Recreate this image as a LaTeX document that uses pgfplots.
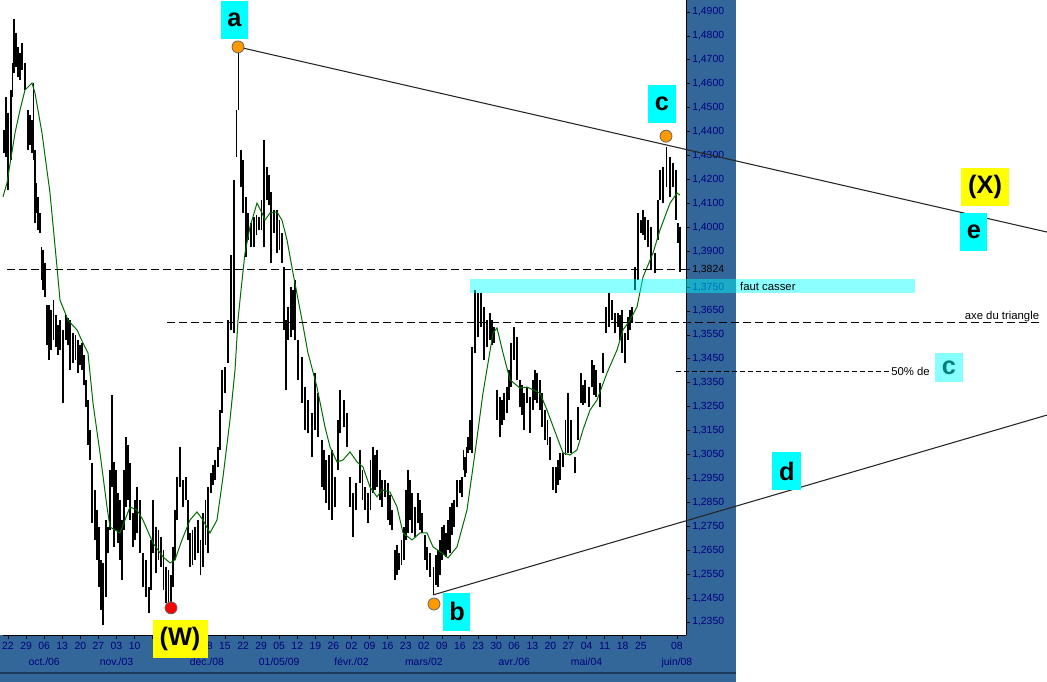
\documentclass[border=0pt]{standalone}
\usepackage{pgfplots}
\pgfplotsset{compat=1.18}
\usepackage{pgfplotstable}
\usepackage{fontspec}
\setmainfont{Liberation Sans}

\definecolor{panel}{RGB}{51,102,153}
\definecolor{panelline}{RGB}{28,58,92}
\definecolor{ticktext}{RGB}{0,0,128}
\definecolor{maline}{RGB}{0,110,0}
\definecolor{orangedot}{RGB}{255,153,0}
\definecolor{boxcyan}{RGB}{0,255,255}
\definecolor{boxyellow}{RGB}{255,255,0}
\definecolor{lightcyan}{RGB}{136,255,255}
\definecolor{tealtext}{RGB}{0,128,128}

% daily bars: trading-day index, high, low
\pgfplotstableread{
n hi lo
-1.1 1.4407 1.4310
-0.55 1.4545 1.4294
0.00 1.4478 1.4156
0.83 1.4574 1.4281
1.24 1.4687 1.4545
1.66 1.4871 1.4645
2.21 1.4812 1.4670
2.77 1.4754 1.4628
3.32 1.4728 1.4616
3.87 1.4770 1.4657
4.70 1.4687 1.4574
5.53 1.4490 1.4323
6.08 1.4469 1.4344
6.64 1.4448 1.4310
7.05 1.4603 1.4281
7.47 1.4323 1.4018
7.88 1.4185 1.4060
8.30 1.4127 1.3989
8.85 1.4060 1.3976
9.26 1.3918 1.3780
9.68 1.3905 1.3738
10.23 1.3851 1.3709
10.78 1.3675 1.3508
11.34 1.3675 1.3445
11.89 1.3654 1.3487
12.58 1.3696 1.3529
13.27 1.3633 1.3500
13.83 1.3592 1.3466
14.38 1.3612 1.3487
15.21 1.3571 1.3265
16.04 1.3633 1.3529
16.59 1.3621 1.3508
17.15 1.3612 1.3403
17.97 1.3558 1.3433
18.66 1.3550 1.3445
19.36 1.3529 1.3391
19.91 1.3508 1.3424
20.46 1.3516 1.3403
21.02 1.3466 1.3341
21.57 1.3362 1.3249
22.12 1.3278 1.3090
22.68 1.3153 1.3027
23.23 1.3015 1.2764
24.06 1.2902 1.2693
24.61 1.2818 1.2609
25.17 1.2747 1.2496
25.72 1.2609 1.2400
26.27 1.2597 1.2338
27.10 1.2776 1.2455
27.65 1.2747 1.2638
28.21 1.2985 1.2735
28.76 1.3299 1.2914
29.31 1.3018 1.2664
29.87 1.2985 1.2735
30.42 1.2889 1.2680
30.97 1.2860 1.2609
31.53 1.2776 1.2526
32.08 1.2985 1.2735
32.63 1.3123 1.2831
33.19 1.3090 1.2860
33.74 1.3015 1.2776
34.57 1.2806 1.2664
35.12 1.2860 1.2693
35.67 1.2914 1.2722
36.50 1.2860 1.2638
37.33 1.2638 1.2496
38.16 1.2609 1.2455
38.99 1.2496 1.2388
39.55 1.2693 1.2484
40.10 1.2860 1.2638
40.93 1.2747 1.2555
41.62 1.2735 1.2609
42.31 1.2705 1.2580
43.00 1.2651 1.2484
43.69 1.2580 1.2430
44.38 1.2567 1.2421
45.08 1.2546 1.2421
45.63 1.2664 1.2496
46.18 1.2818 1.2609
46.73 1.2956 1.2776
47.56 1.3081 1.2914
48.39 1.2944 1.2831
49.22 1.2956 1.2860
49.77 1.2860 1.2693
50.33 1.2722 1.2580
51.02 1.2735 1.2588
51.71 1.2747 1.2609
52.54 1.2776 1.2638
53.24 1.2693 1.2547
53.93 1.2806 1.2580
54.62 1.2860 1.2672
55.31 1.2914 1.2638
56.14 1.2973 1.2889
56.69 1.3006 1.2923
57.24 1.3027 1.2944
58.07 1.3081 1.2998
58.63 1.3236 1.3069
59.18 1.3403 1.3224
60.01 1.3416 1.3307
60.84 1.3612 1.3433
61.67 1.3884 1.3571
62.50 1.4198 1.3558
63.19 1.4490 1.4294
63.74 1.4741 1.4490
64.44 1.4323 1.4168
64.99 1.4281 1.4060
65.82 1.4127 1.3876
66.37 1.4060 1.3947
67.20 1.4018 1.3918
68.03 1.4043 1.3918
68.72 1.4051 1.3968
69.41 1.4043 1.3989
70.11 1.4114 1.3989
70.80 1.4365 1.3918
71.63 1.4252 1.4114
72.18 1.4219 1.4093
72.73 1.4147 1.3851
73.56 1.4072 1.3976
74.39 1.4072 1.3892
75.08 1.4030 1.3905
75.77 1.3976 1.3851
76.33 1.3834 1.3571
76.88 1.3612 1.3320
77.43 1.3667 1.3529
78.26 1.3750 1.3541
78.82 1.3738 1.3571
79.37 1.3780 1.3529
80.20 1.3529 1.3362
81.31 1.3458 1.3265
82.14 1.3332 1.3153
82.96 1.3278 1.3140
84.07 1.3224 1.3040
84.90 1.3391 1.3153
85.73 1.3307 1.3123
86.84 1.3111 1.2914
87.39 1.3069 1.2902
87.94 1.3027 1.2847
88.77 1.3048 1.2818
89.60 1.3069 1.2776
90.43 1.2956 1.2831
91.26 1.3194 1.2985
91.81 1.3320 1.3140
92.92 1.3278 1.3165
93.75 1.3224 1.3081
94.58 1.2956 1.2831
95.41 1.2889 1.2705
96.24 1.2931 1.2818
97.35 1.3069 1.2931
98.04 1.2985 1.2860
98.73 1.2914 1.2818
99.56 1.2889 1.2764
100.25 1.3027 1.2818
100.94 1.3081 1.2889
101.49 1.3048 1.2902
102.04 1.3069 1.2914
102.88 1.2985 1.2860
103.43 1.2944 1.2831
104.26 1.2944 1.2873
105.09 1.2931 1.2776
105.64 1.2881 1.2756
106.19 1.2818 1.2735
107.02 1.2651 1.2526
107.58 1.2672 1.2547
108.13 1.2638 1.2567
108.82 1.2693 1.2588
109.51 1.2747 1.2609
110.07 1.2902 1.2693
110.62 1.2985 1.2722
111.17 1.2944 1.2776
111.73 1.2889 1.2722
112.56 1.2831 1.2705
113.38 1.2889 1.2764
113.94 1.2860 1.2735
114.49 1.2806 1.2722
115.32 1.2714 1.2609
115.87 1.2664 1.2567
116.70 1.2638 1.2538
117.67 1.2580 1.2463
118.36 1.2630 1.2505
118.92 1.2651 1.2496
119.47 1.2693 1.2547
120.02 1.2747 1.2609
120.58 1.2756 1.2630
121.13 1.2722 1.2622
121.68 1.2776 1.2651
122.23 1.2831 1.2638
122.79 1.2847 1.2714
123.34 1.2860 1.2747
124.17 1.2944 1.2831
125.00 1.2944 1.2889
125.55 1.2956 1.2872
125.97 1.3069 1.2985
126.38 1.3040 1.2956
126.80 1.3081 1.2973
127.21 1.3123 1.3056
127.77 1.3194 1.3069
128.32 1.3500 1.3056
129.15 1.3738 1.3474
129.98 1.3725 1.3541
130.81 1.3725 1.3583
131.64 1.3667 1.3445
132.47 1.3612 1.3500
133.30 1.3642 1.3529
133.85 1.3612 1.3508
134.40 1.3583 1.3516
135.23 1.3320 1.3194
136.06 1.3291 1.3123
136.62 1.3278 1.3174
137.17 1.3307 1.3194
138.00 1.3332 1.3224
138.55 1.3403 1.3278
139.10 1.3516 1.3332
139.93 1.3583 1.3445
140.76 1.3541 1.3362
141.59 1.3362 1.3249
142.15 1.3341 1.3215
142.70 1.3307 1.3153
143.53 1.3332 1.3265
144.36 1.3291 1.3140
145.19 1.3362 1.3236
145.74 1.3403 1.3278
146.30 1.3391 1.3265
147.12 1.3362 1.3236
147.68 1.3307 1.3165
148.51 1.3236 1.3111
149.20 1.3194 1.3090
149.89 1.3123 1.3027
150.72 1.2998 1.2902
151.55 1.2998 1.2889
152.10 1.3027 1.2923
152.65 1.3056 1.2944
153.48 1.3056 1.2998
154.18 1.3194 1.3048
154.87 1.3307 1.3056
155.70 1.3194 1.3056
156.80 1.3040 1.2973
157.63 1.3249 1.3111
158.46 1.3391 1.3265
159.01 1.3341 1.3257
159.57 1.3362 1.3265
160.67 1.3332 1.3249
161.50 1.3445 1.3332
162.06 1.3424 1.3299
162.61 1.3403 1.3291
163.72 1.3349 1.3249
164.55 1.3474 1.3391
165.38 1.3667 1.3558
166.21 1.3725 1.3583
167.04 1.3696 1.3612
167.87 1.3642 1.3558
168.69 1.3642 1.3583
169.25 1.3633 1.3529
169.80 1.3654 1.3474
170.63 1.3558 1.3433
171.46 1.3625 1.3529
172.01 1.3654 1.3571
172.57 1.3667 1.3600
173.40 1.3834 1.3738
174.23 1.4060 1.3780
175.06 1.4030 1.3976
175.61 1.4072 1.3968
176.16 1.4043 1.3947
176.99 1.4030 1.3918
177.82 1.4001 1.3821
178.93 1.3892 1.3809
179.76 1.4114 1.3947
180.31 1.4239 1.4114
181.14 1.4252 1.4101
182.11 1.4336 1.4168
183.08 1.4294 1.4127
183.91 1.4269 1.4168
184.73 1.4239 1.4030
185.29 1.4018 1.3934
185.84 1.4001 1.3813
}\bars

% moving average (green)
\pgfplotstableread{
n v
-1.38 1.4127
-0.28 1.4185
1.94 1.4394
3.32 1.4490
4.70 1.4574
6.64 1.4603
7.47 1.4561
9.40 1.4394
11.62 1.4143
13.55 1.3834
14.38 1.3696
16.59 1.3612
19.08 1.3571
20.74 1.3516
22.12 1.3475
23.51 1.3265
25.44 1.3057
27.38 1.2831
28.21 1.2747
30.97 1.2722
32.36 1.2776
33.74 1.2831
35.67 1.2818
37.33 1.2776
40.10 1.2680
42.86 1.2622
44.80 1.2597
46.18 1.2609
48.12 1.2693
50.33 1.2776
52.27 1.2810
53.93 1.2776
55.86 1.2722
57.80 1.2776
59.46 1.2956
61.39 1.3194
62.78 1.3403
63.61 1.3612
64.44 1.3738
65.54 1.3892
66.92 1.4001
68.86 1.4101
70.24 1.4060
71.07 1.4030
72.46 1.4060
74.39 1.4064
75.77 1.4030
77.16 1.3947
78.82 1.3809
81.31 1.3612
82.96 1.3475
85.45 1.3332
87.67 1.3165
89.05 1.3082
90.98 1.3019
92.64 1.3027
94.58 1.3061
96.52 1.3019
98.17 1.2998
100.11 1.2914
102.04 1.2873
103.43 1.2902
105.64 1.2893
107.58 1.2831
109.24 1.2722
111.73 1.2693
113.94 1.2722
115.87 1.2722
117.53 1.2664
120.02 1.2638
121.68 1.2618
124.17 1.2664
126.94 1.2818
129.15 1.3057
131.36 1.3307
134.13 1.3558
135.23 1.3579
136.89 1.3475
138.83 1.3362
141.59 1.3328
143.53 1.3332
147.12 1.3307
149.06 1.3236
151.83 1.3123
153.48 1.3057
155.42 1.3048
157.35 1.3069
159.01 1.3153
160.95 1.3236
162.89 1.3278
165.65 1.3391
168.42 1.3487
170.08 1.3571
172.01 1.3612
173.95 1.3667
175.61 1.3792
178.37 1.3892
180.31 1.3989
183.08 1.4101
185.02 1.4143
185.84 1.4135
}\mavg

\begin{document}
\begin{tikzpicture}
\useasboundingbox (-2.25pt,-35.25pt) rectangle (783pt,476.25pt);
\fill[white] (-2.25pt,-35.25pt) rectangle (783pt,476.25pt);
% blue panels behind the axis
\fill[panel] (-2.25pt,-35.25pt) rectangle (549.75pt,0pt);
\fill[panel] (512.25pt,-35.25pt) rectangle (549.75pt,476.25pt);
\draw[panelline, line width=1pt] (-2.25pt,-28.5pt) -- (549.75pt,-28.5pt);

\begin{axis}[
  at={(0,0)}, anchor=south west,
  scale only axis, width=512.25pt, height=476.25pt,
  xmin=-1.38, xmax=187.5, ymin=1.22955, ymax=1.49502,
  clip=false,
  axis x line*=bottom, axis y line*=right,
  axis line style={-, black, line width=0.75pt},
  tick align=outside, major tick length=3pt,
  tick style={black, line width=0.6pt},
  tick label style={font=\fontsize{7.8}{12}\selectfont, text=ticktext},
  xticklabel style={align=center, inner sep=1pt, yshift=-1.5pt},
  yticklabel style={inner sep=1.5pt},
  xtick={0,5,10,15,20,25,30,35,40,45,50,55,60,65,70,75,80,85,90,95,100,105,110,115,120,125,130,135,140,145,150,155,160,165,170,175,185},
  xticklabels={22,29,{06\\oct./06},13,20,27,{03\\nov./03},10,{},{},{},{08\\déc./08},15,22,29,{05\\01/05/09},12,19,26,{02\\févr./02},09,16,23,{02\\mars/02},09,16,23,30,{06\\avr./06},13,20,27,{04\\mai/04},11,18,25,{08\\juin/08}},
  ytick={1.235,1.245,1.255,1.265,1.275,1.285,1.295,1.305,1.315,1.325,1.335,1.345,1.355,1.365,1.375,1.39,1.40,1.41,1.42,1.43,1.44,1.45,1.46,1.47,1.48,1.49},
  yticklabels={{1,2350},{1,2450},{1,2550},{1,2650},{1,2750},{1,2850},{1,2950},{1,3050},{1,3150},{1,3250},{1,3350},{1,3450},{1,3550},{1,3650},{1,3750},{1,3900},{1,4000},{1,4100},{1,4200},{1,4300},{1,4400},{1,4500},{1,4600},{1,4700},{1,4800},{1,4900}},
  extra y ticks={1.3824},
  extra y tick labels={1{,}3824},
  extra y tick style={yticklabel style={text=black}},
]
% high-low bars
\addplot[draw=none, mark=none, forget plot,
  error bars/.cd, y dir=plus, y explicit, error mark=none,
  error bar style={draw=black, solid, line width=1.4pt}]
  table[x=n, y=lo, y error expr=\thisrow{hi}-\thisrow{lo}] {\bars};
% moving average
\addplot[maline, line width=0.75pt, mark=none] table[x=n, y=v] {\mavg};

% horizontal guides
\draw[black, line width=0.75pt, dash pattern=on 6pt off 3pt] (axis cs:-0.28,1.3824) -- (axis cs:187.5,1.3824);
\draw[black, line width=0.75pt, dash pattern=on 6pt off 3pt] (axis cs:43.97,1.3600) -- (axis cs:286.2,1.3600);
\draw[black, line width=0.75pt, dash pattern=on 3.75pt off 2.25pt] (axis cs:184.7,1.3395) -- (axis cs:243.6,1.3395);

% triangle lines
\draw[black!85, line width=0.8pt] (axis cs:63.61,1.4754) -- (axis cs:287.33,1.3980);
\draw[black!85, line width=0.8pt] (axis cs:117.53,1.2463) -- (axis cs:287.33,1.3215);

% pivot dots
\filldraw[fill=orangedot, draw=black!60, line width=0.6pt] (axis cs:63.61,1.4754) circle[radius=4.5pt];
\filldraw[fill=orangedot, draw=black!60, line width=0.6pt] (axis cs:181.97,1.4381) circle[radius=4.5pt];
\filldraw[fill=orangedot, draw=black!60, line width=0.6pt] (axis cs:117.81,1.2425) circle[radius=4.5pt];
\filldraw[fill=red, draw=black!60, line width=0.6pt] (axis cs:45.08,1.2409) circle[radius=4.5pt];

\coordinate (bandA) at (axis cs:127.8,1.3725);
\coordinate (bandB) at (axis cs:250.8,1.3784);
\coordinate (fc) at (axis cs:202.4,1.3754);
\coordinate (W) at (axis cs:47.57,1.2279);
\coordinate (A) at (axis cs:62.64,1.4868);
\coordinate (C) at (axis cs:180.86,1.4515);
\coordinate (B) at (axis cs:124.17,1.2392);
\coordinate (X) at (axis cs:270.2,1.4168);
\coordinate (E) at (axis cs:267.1,1.3980);
\coordinate (D) at (axis cs:215.4,1.2981);
\coordinate (C2) at (axis cs:260.2,1.3412);
\coordinate (axe) at (axis cs:285.6,1.3600);
\coordinate (half) at (axis cs:244.2,1.3399);
\end{axis}

% "faut casser" band
\fill[boxcyan, opacity=0.45] (bandA) rectangle (bandB);
\node[anchor=west, inner sep=0pt, font=\fontsize{8.5}{10}\selectfont] at (fc) {faut casser};
\node[anchor=south east, inner sep=1pt, font=\fontsize{8.5}{10}\selectfont] at (axe) {axe du triangle};
\node[anchor=west, inner sep=0pt, font=\fontsize{8.5}{10}\selectfont] at (half) {50\% de};

% wave labels
\tikzset{wl/.style={inner sep=0pt, font=\bfseries\fontsize{19}{19}\selectfont, minimum height=28.5pt}}
\node[wl, fill=boxcyan, minimum width=20.25pt] at (A) {a};
\node[wl, fill=boxcyan, minimum width=21pt] at (C) {c};
\node[wl, fill=boxcyan, minimum width=20.25pt] at (B) {b};
\node[wl, fill=boxyellow, minimum width=41.25pt] at (W) {(W)};
\node[wl, fill=boxyellow, minimum width=36pt] at (X) {(X)};
\node[wl, fill=boxcyan, minimum width=20.25pt] at (E) {e};
\node[wl, fill=boxcyan, minimum width=21.75pt] at (D) {d};
\node[wl, fill=lightcyan, text=tealtext, minimum width=21pt, minimum height=21.75pt] at (C2) {c};
\end{tikzpicture}
\end{document}
